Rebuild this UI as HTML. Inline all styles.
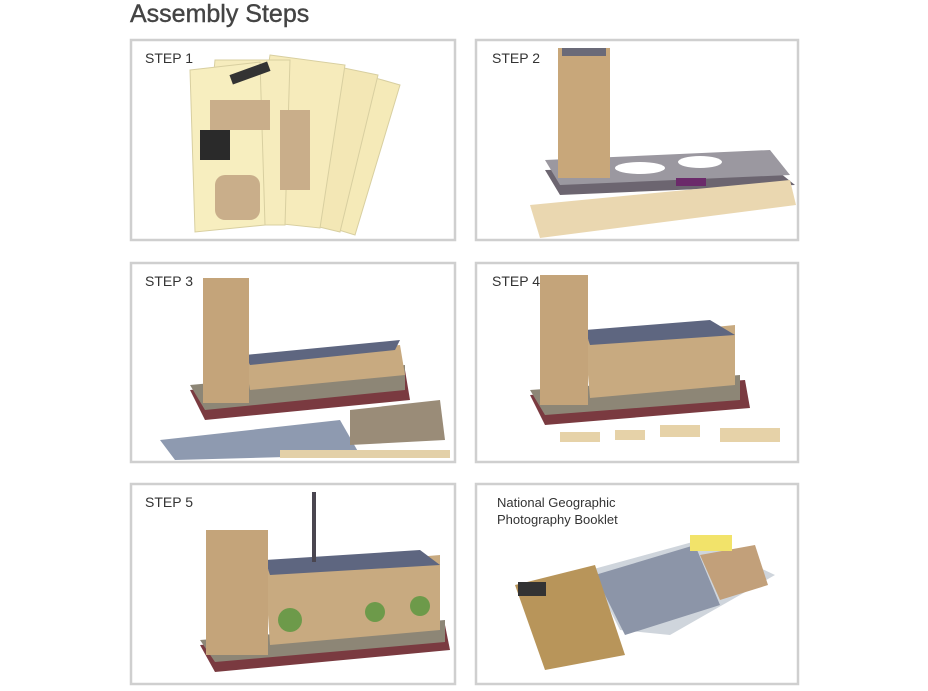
<!DOCTYPE html>
<html><head><meta charset="utf-8"><style>
body{margin:0;background:#fff;width:928px;height:686px;overflow:hidden;font-family:"Liberation Sans",sans-serif}
</style></head><body>
<svg width="928" height="686" viewBox="0 0 928 686" xmlns="http://www.w3.org/2000/svg" font-family="Liberation Sans, sans-serif">
<text x="130" y="22" font-size="25" fill="#444" stroke="#444" stroke-width="0.4">Assembly Steps</text>
<g fill="#fff" stroke="#cfcfcf" stroke-width="2.5">
<rect x="131" y="40" width="324" height="200"/>
<rect x="476" y="40" width="322" height="200"/>
<rect x="131" y="263" width="324" height="199"/>
<rect x="476" y="263" width="322" height="199"/>
<rect x="131" y="484" width="324" height="200"/>
<rect x="476" y="484" width="322" height="200"/>
</g>
<g font-size="14" fill="#333">
<text x="145" y="63">STEP 1</text>
<text x="492" y="63">STEP 2</text>
<text x="145" y="286">STEP 3</text>
<text x="492" y="286">STEP 4</text>
<text x="145" y="507">STEP 5</text>
<text x="497" y="507" font-size="13">National Geographic</text>
<text x="497" y="524" font-size="13">Photography Booklet</text>
</g>
<!-- step1 -->
<g stroke="#d8cfa0" stroke-width="1">
<polygon points="330,65 400,85 355,235 290,215" fill="#f5eab8"/>
<polygon points="305,60 378,75 340,232 270,215" fill="#f3e7b5"/>
<polygon points="270,55 345,65 320,228 245,220" fill="#f6ebbb"/>
<polygon points="215,60 290,60 285,225 200,225" fill="#f6ecbd"/>
<polygon points="190,70 260,62 265,225 195,232" fill="#f7eebf"/>
</g>
<g fill="#c9ae8a"><rect x="210" y="100" width="60" height="30"/><rect x="215" y="175" width="45" height="45" rx="10"/><rect x="280" y="110" width="30" height="80"/></g>
<rect x="200" y="130" width="30" height="30" fill="#2a2a2a"/><rect x="230" y="68" width="40" height="10" fill="#333" transform="rotate(-20 250 73)"/>
<!-- step2 -->
<polygon points="545,170 770,165 795,185 560,195" fill="#6c6570"/>
<polygon points="545,160 770,150 790,175 560,185" fill="#9b98a0"/>
<ellipse cx="640" cy="168" rx="25" ry="6" fill="#fff"/><ellipse cx="700" cy="162" rx="22" ry="6" fill="#fff"/>
<rect x="558" y="48" width="52" height="130" fill="#c8a77a"/><rect x="562" y="48" width="44" height="8" fill="#6a6a78"/>
<rect x="676" y="178" width="30" height="8" fill="#6b2a6a"/>
<polygon points="530,205 790,180 796,205 540,238" fill="#ead7b0"/>
<!-- step3 -->
<polygon points="190,390 405,370 410,400 205,420" fill="#7a3a40"/>
<polygon points="190,385 405,365 405,390 205,410" fill="#8d8676"/>
<polygon points="245,360 400,345 405,375 250,390" fill="#c8aa80"/>
<polygon points="245,355 400,340 395,350 250,365" fill="#5e6680"/>
<rect x="203" y="278" width="46" height="125" fill="#c4a47a"/>
<polygon points="160,440 340,420 360,455 175,460" fill="#8e9ab0"/>
<polygon points="350,410 440,400 445,440 350,445" fill="#9a8c78"/>
<rect x="280" y="450" width="170" height="8" fill="#e3d0a8"/>
<!-- step4 -->
<polygon points="530,395 745,380 750,408 545,425" fill="#7a3a40"/>
<polygon points="530,390 740,375 740,400 545,415" fill="#8d8676"/>
<polygon points="585,340 735,325 735,385 590,398" fill="#c8aa80"/>
<polygon points="585,330 710,320 735,335 590,345" fill="#5e6680"/>
<rect x="540" y="275" width="48" height="130" fill="#c4a47a"/>
<g fill="#e6d2a8"><rect x="560" y="432" width="40" height="10"/><rect x="615" y="430" width="30" height="10"/><rect x="660" y="425" width="40" height="12"/><rect x="720" y="428" width="60" height="14"/></g>
<!-- step5 -->
<polygon points="200,645 445,625 450,650 215,672" fill="#7a3a40"/>
<polygon points="200,640 445,620 445,642 215,662" fill="#8d8676"/>
<polygon points="265,570 440,555 440,630 270,645" fill="#c8aa80"/>
<polygon points="265,560 420,550 440,565 270,575" fill="#5e6680"/>
<rect x="206" y="530" width="62" height="125" fill="#c4a47a"/>
<rect x="312" y="492" width="4" height="70" fill="#4a4650"/>
<circle cx="290" cy="620" r="12" fill="#6d9a4a"/><circle cx="375" cy="612" r="10" fill="#6d9a4a"/><circle cx="420" cy="606" r="10" fill="#6d9a4a"/>
<!-- booklet -->
<polygon points="590,570 700,540 775,575 670,635 620,630" fill="#cfd5dc"/>
<polygon points="595,575 695,545 720,605 625,635" fill="#8c95a8"/>
<polygon points="700,555 755,545 768,585 720,600" fill="#c2a07a"/>
<rect x="690" y="535" width="42" height="16" fill="#f2e36a"/>
<polygon points="515,585 595,565 625,655 545,670" fill="#b8955a"/>
<rect x="518" y="582" width="28" height="14" fill="#333"/>
</svg>
</body></html>
